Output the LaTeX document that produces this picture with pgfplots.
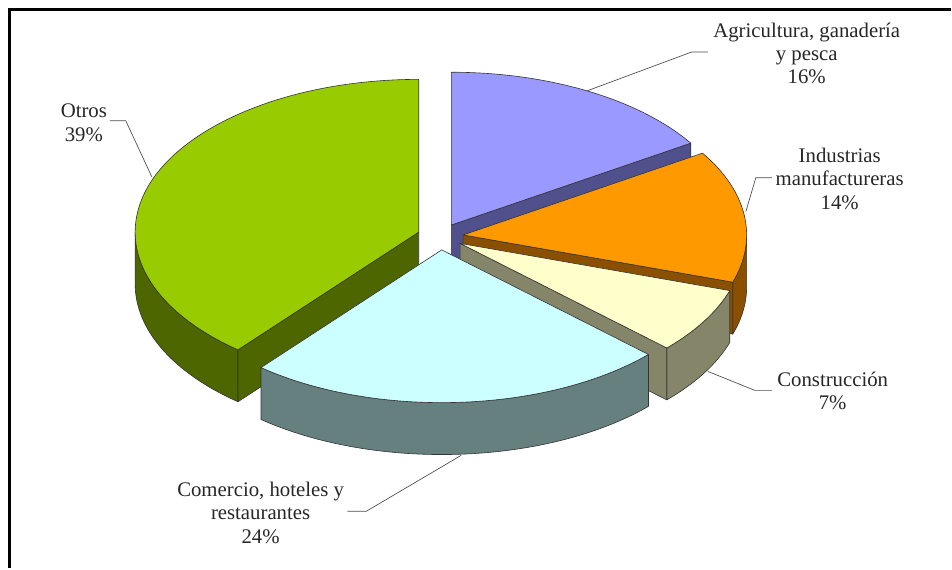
\documentclass[border=0pt]{standalone}
\usepackage{pgfplots}
\pgfplotsset{compat=1.18}
\usepackage{pgfplotstable}
\usepackage{fontspec}
\setmainfont{Liberation Serif}

\definecolor{agriT}{HTML}{9999FF}\definecolor{agriS}{HTML}{50508C}
\definecolor{indT}{HTML}{FF9900}\definecolor{indS}{HTML}{8A5000}
\definecolor{conT}{HTML}{FFFFCC}\definecolor{conS}{HTML}{85856A}
\definecolor{comT}{HTML}{CCFFFF}\definecolor{comS}{HTML}{668080}
\definecolor{otrT}{HTML}{99CC00}\definecolor{otrS}{HTML}{4D6600}

% shares (%) clockwise from 12 o'clock
\pgfplotstableread{
pct
16
14
7
24
39
}\piedata
\pgfplotstablecreatecol[expr accum={\pgfmathaccuma + \thisrow{pct}}{0}]{cum}\piedata

\def\slCX{441}\def\slCY{332}\def\slRX{284}\def\slRY{153}\def\slDEP{52}
\def\slEX{23}\def\slEY{13.3}
\def\slRXd{213pt}\def\slRYd{114.75pt}\def\slDEPd{39pt}

\tikzset{pieface/.style={draw=black!80,line width=0.45pt,line join=round}}

\newcommand\drawslice[3]{%
 \pgfplotstablegetelem{#1}{pct}\of\piedata \let\slP\pgfplotsretval
 \pgfplotstablegetelem{#1}{cum}\of\piedata \let\slC\pgfplotsretval
 \pgfmathsetmacro\slTa{90-3.6*\slC}%
 \pgfmathsetmacro\slTb{90-3.6*(\slC-\slP)}%
 \pgfmathsetmacro\slTm{(\slTa+\slTb)/2}%
 \pgfmathsetmacro\slAx{\slCX+\slEX*cos(\slTm)}%
 \pgfmathsetmacro\slAy{\slCY+\slEY*sin(\slTm)}%
 \pgfmathsetmacro\slPax{\slAx+\slRX*cos(\slTa)}%
 \pgfmathsetmacro\slPay{\slAy+\slRY*sin(\slTa)}%
 \pgfmathsetmacro\slPbx{\slAx+\slRX*cos(\slTb)}%
 \pgfmathsetmacro\slPby{\slAy+\slRY*sin(\slTb)}%
 \pgfmathsetmacro\slCa{cos(\slTa)}%
 \pgfmathsetmacro\slCb{cos(\slTb)}%
 % outer side (front half)
 \pgfmathsetmacro\slLo{max(\slTa,-180)}%
 \pgfmathsetmacro\slHi{min(\slTb,0)}%
 \pgfmathsetmacro\slLx{\slAx+\slRX*cos(\slLo)}%
 \pgfmathsetmacro\slLy{\slAy+\slRY*sin(\slLo)}%
 \ifdim\slHi pt>\slLo pt
  \filldraw[pieface,fill=#3] (axis cs:\slLx,\slLy)
    arc[start angle=\slLo,end angle=\slHi,x radius=\slRXd,y radius=\slRYd]
    -- ++(0pt,-\slDEPd)
    arc[start angle=\slHi,end angle=\slLo,x radius=\slRXd,y radius=\slRYd] -- cycle;
 \fi
 % radial cut faces
 \ifdim\slCa pt>0.01pt
  \filldraw[pieface,fill=#3] (axis cs:\slAx,\slAy) -- (axis cs:\slPax,\slPay)
    -- ++(0pt,-\slDEPd) -- ([yshift=-\slDEPd]axis cs:\slAx,\slAy) -- cycle;
 \fi
 \ifdim\slCb pt<-0.01pt
  \filldraw[pieface,fill=#3] (axis cs:\slAx,\slAy) -- (axis cs:\slPbx,\slPby)
    -- ++(0pt,-\slDEPd) -- ([yshift=-\slDEPd]axis cs:\slAx,\slAy) -- cycle;
 \fi
 % top face
 \filldraw[pieface,fill=#2] (axis cs:\slAx,\slAy) -- (axis cs:\slPax,\slPay)
   arc[start angle=\slTa,end angle=\slTb,x radius=\slRXd,y radius=\slRYd] -- cycle;
}

\begin{document}
\begin{tikzpicture}
\begin{axis}[x=0.75pt,y=0.75pt,xmin=0,xmax=952,ymin=0,ymax=569,
  hide axis,scale only axis,clip=false]
\path (axis cs:0,0) (axis cs:952,569);
\pgfplotsextra{\drawslice{4}{otrT}{otrS}}
\pgfplotsextra{\drawslice{0}{agriT}{agriS}}
\pgfplotsextra{\drawslice{1}{indT}{indS}}
\pgfplotsextra{\drawslice{2}{conT}{conS}}
\pgfplotsextra{\drawslice{3}{comT}{comS}}

% leader lines
\draw[black!70,line width=0.5pt] (axis cs:709,517) -- (axis cs:693,517) -- (axis cs:588,478);
\draw[black!70,line width=0.5pt] (axis cs:773,391) -- (axis cs:757,391) -- (axis cs:747,357);
\draw[black!70,line width=0.5pt] (axis cs:773,178) -- (axis cs:756,178) -- (axis cs:709,197);
\draw[black!70,line width=0.5pt] (axis cs:348,57) -- (axis cs:367,57) -- (axis cs:462,113);
\draw[black!70,line width=0.5pt] (axis cs:110,448) -- (axis cs:126,448) -- (axis cs:152,392);

% labels
\tikzset{lbl/.style={align=center,inner sep=0pt,text=black!85,font=\fontsize{15.6}{17.6}\selectfont}}
\node[lbl] at (axis cs:808,515.5) {Agricultura, ganadería\\y pesca\\16\%};
\node[lbl] at (axis cs:841,390) {Industrias\\manufactureras\\14\%};
\node[lbl] at (axis cs:834,177.5) {Construcción\\7\%};
\node[lbl] at (axis cs:261,55.5) {Comercio, hoteles y\\restaurantes\\24\%};
\node[lbl] at (axis cs:84,446) {Otros\\39\%};

% frame
\draw[black,line width=2.25pt] (axis cs:9.7,0) -- (axis cs:9.7,559.3) -- (axis cs:952,559.3);
\end{axis}
\end{tikzpicture}
\end{document}
